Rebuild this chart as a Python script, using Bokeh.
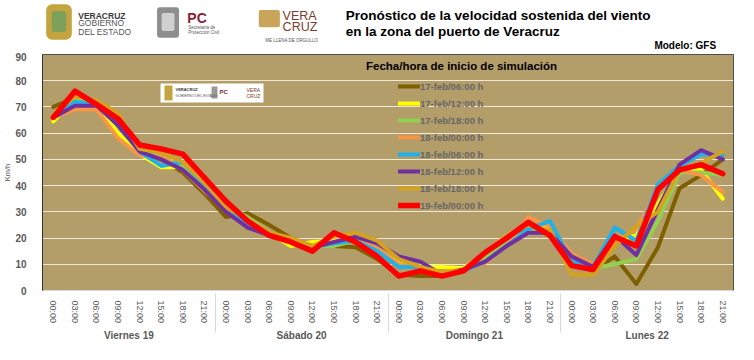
from bokeh.plotting import figure
from bokeh.layouts import column
from bokeh.models import FactorRange, Range1d, Legend, LegendItem, Label, BoxAnnotation, FixedTicker
from bokeh.embed import file_html
from bokeh.resources import INLINE

FONT = "Liberation Sans"

days = ["Viernes 19", "Sábado 20", "Domingo 21", "Lunes 22"]
hours = ["00:00", "03:00", "06:00", "09:00", "12:00", "15:00", "18:00", "21:00"]
y_ticks = [0, 10, 20, 30, 40, 50, 60, 70, 80, 90]

run_labels = ["17-feb/06:00 h", "17-feb/12:00 h", "17-feb/18:00 h", "18-feb/00:00 h",
              "18-feb/06:00 h", "18-feb/12:00 h", "18-feb/18:00 h", "19-feb/00:00 h"]
run_colors = ["#7F6000", "#FFFF00", "#92D050", "#F79646",
              "#1FB1E8", "#7030A0", "#D6A21E", "#FF0000"]

feb17_06 = [70, 73.5, 72, 63, 53, 50, 45, 37, 28, 29.5, 25, 20, 17, 17, 16.5, 12,
            6, 5.5, 5.5, 7.5, 14, 20, 25, 22, 10, 7.5, 13, 2.5, 16.5, 39, 44, 50]
feb17_12 = [64.5, 73, 71, 60, 52, 47, 47, 40, 32, 27, 22, 17, 18.5, 19, 19, 15.5,
            10.5, 9, 9, 8.5, 14, 21, 25, 24, 10, 8, 19, 21, 33, 45.5, 46, 35]
feb17_18 = [67, 73, 72, 64, 53, 51, 47, 39, 32, 28, 22, 19, 17, 17, 19, 16,
            10, 8, 7, 7.5, 13, 18, 23, 23, 10, 8.5, 10, 12, 26.5, 45, 45, 44]
feb18_00 = [66, 69, 69, 58, 51.5, 51, 46, 38, 31, 24, 21.5, 20, 17, 18, 20, 16,
            10, 8, 7, 8, 10.5, 17, 28, 24.5, 14, 10, 19, 23.5, 38.5, 46, 44, 37.5]
feb18_06 = [67, 72, 71, 63, 53, 47.5, 49, 40, 32.5, 25, 21, 19, 16.5, 18, 19, 15,
            9, 9, 6.5, 7.5, 11, 17, 23.5, 26.5, 11, 9, 24, 19, 40.5, 47.5, 52, 51.5]
feb18_12 = [66, 70.5, 70.5, 63, 53, 50, 46, 38.5, 30, 24, 21, 19.5, 16.5, 18.5, 20.5, 18,
            13, 11, 6, 8, 11, 17, 22, 22, 13, 9, 21, 13.5, 31, 48, 53.5, 50]
feb18_18 = [67, 74, 72.5, 67.5, 54, 52.5, 49, 41, 32, 27, 22, 20, 17, 20.5, 22, 19,
            12, 9, 7, 7.5, 14, 21, 25, 23, 6, 6, 17, 24.5, 30, 46, 48.5, 53]
feb19_00 = [66, 76, 71, 65.5, 55.5, 54, 52, 43, 34, 26.5, 21, 18.5, 15, 22, 18.5, 13,
            5.5, 7.5, 5.5, 7.5, 14.5, 20, 26, 21, 9.5, 8, 20.5, 17, 38.5, 46, 48, 44.5]

series = [feb17_06, feb17_12, feb17_18, feb18_00, feb18_06, feb18_12, feb18_18, feb19_00]

factors = [(d, h) for d in days for h in hours]

W = 738
HDR_H = 52
MAIN_H = 344 - HDR_H

# ---------------- header (titles + logos) ----------------
hdr = figure(width=W, height=HDR_H, output_backend="svg", toolbar_location=None, title=None,
             x_range=Range1d(0, 754), y_range=Range1d(54.4, 0),
             x_axis_location=None, y_axis_location=None,
             min_border=0, min_border_left=0, min_border_right=0,
             min_border_top=0, min_border_bottom=0)
hdr.grid.visible = False
hdr.outline_line_color = None
hdr.background_fill_color = "white"
hdr.border_fill_color = "white"


def hlab(text, x, y, size, color="#000000", style="normal", align="left"):
    hdr.add_layout(Label(x=x, y=y, text=text, text_font=FONT, text_font_size=size,
                         text_color=color, text_font_style=style, text_align=align,
                         text_baseline="middle"))


def hbox(l, r, t, b, color, radius=0):
    hdr.add_layout(BoxAnnotation(left=l, right=r, top=t, bottom=b, fill_color=color,
                                 fill_alpha=1, line_color=None, border_radius=radius))


hlab("Pronóstico de la velocidad sostenida del viento", 331, 16.2, "13.5px", style="bold")
hlab("en la zona del puerto de Veracruz", 331, 32.7, "13.5px", style="bold")
hlab("Modelo: GFS", 735, 47, "10px", style="bold", align="right")

# logo approximations
hbox(4, 32, 4, 41, "#C3A43E", 6)
hbox(10, 26, 11, 33, "#7FA05A", 3)
hlab("VERACRUZ", 39, 15.7, "8.5px", color="#3A3A3A", style="bold")
hlab("GOBIERNO", 39, 23.7, "8.5px", color="#555555")
hlab("DEL ESTADO", 39, 33, "8.5px", color="#555555")
hbox(125, 149, 7, 39, "#8E8E8E", 3)
hbox(130, 144, 13, 32, "#D0D0D0", 2)
hlab("PC", 158, 18.7, "14px", color="#8B2232", style="bold")
hlab("Secretaría de", 159, 28.5, "4.5px", color="#555555")
hlab("Protección Civil", 159, 33.5, "4.5px", color="#555555")
hbox(236, 259, 10, 28, "#C8A55A", 2)
hlab("VERA", 262, 16.3, "12.5px", color="#7B3B2B")
hlab("CRUZ", 262, 28, "12.5px", color="#7B3B2B")
hlab("ME LLENA DE ORGULLO", 243, 42.3, "4.5px", color="#555555")

# ---------------- main chart ----------------
p = figure(width=W, height=MAIN_H, output_backend="svg", toolbar_location=None, title=None,
           x_range=FactorRange(*factors, factor_padding=0, group_padding=0, range_padding=0),
           y_range=Range1d(0, 90),
           min_border_left=41, min_border_right=5, min_border_top=2, min_border_bottom=54)

p.background_fill_color = "#B39D69"
p.border_fill_color = "white"
p.outline_line_color = "#4D4D4D"
p.outline_line_width = 1

p.xgrid.visible = False
p.ygrid.grid_line_color = "#EFE8D8"
p.ygrid.grid_line_width = 1.2

p.yaxis.ticker = FixedTicker(ticks=y_ticks)
p.yaxis.axis_line_color = "#333333"
p.yaxis.major_tick_line_color = None
p.yaxis.minor_tick_line_color = None
p.yaxis.major_label_text_font = FONT
p.yaxis.major_label_text_font_size = "10px"
p.yaxis.major_label_text_font_style = "bold"
p.yaxis.major_label_text_color = "#595959"
p.yaxis.major_label_standoff = 10
p.yaxis.axis_label = "Km/h"
p.yaxis.axis_label_text_font = FONT
p.yaxis.axis_label_text_font_size = "7.5px"
p.yaxis.axis_label_text_font_style = "normal"
p.yaxis.axis_label_text_color = "#595959"
p.yaxis.axis_label_standoff = 0

p.xaxis.axis_line_color = "#D9D9D9"
p.xaxis.major_tick_line_color = None
p.xaxis.minor_tick_line_color = None
p.xaxis.major_label_orientation = "vertical"
p.xaxis.major_label_text_font = FONT
p.xaxis.major_label_text_font_size = "9px"
p.xaxis.major_label_text_color = "#595959"
p.xaxis.major_label_standoff = 4
p.xaxis.group_text_font = FONT
p.xaxis.group_text_font_size = "10px"
p.xaxis.group_text_font_style = "bold"
p.xaxis.group_text_color = "#595959"
p.xaxis.separator_line_color = "#D9D9D9"
p.xaxis.separator_line_width = 1

renderers = []
for i, (vals, col) in enumerate(zip(series, run_colors)):
    lw = 5.5 if i == len(series) - 1 else 4
    r = p.line(factors, vals, line_color=col, line_width=lw, line_join="round", line_cap="round")
    renderers.append(r)

legend = Legend(items=[LegendItem(label=lab, renderers=[r]) for lab, r in zip(run_labels, renderers)],
                location=(356, 78), orientation="vertical")
legend.background_fill_alpha = 0
legend.border_line_alpha = 0
legend.padding = 0
legend.margin = 0
legend.spacing = 3
legend.glyph_height = 14
legend.label_height = 14
legend.glyph_width = 22
legend.label_standoff = 0
legend.label_text_font = FONT
legend.label_text_font_size = "9.5px"
legend.label_text_font_style = "bold"
legend.label_text_color = "#666666"
p.add_layout(legend)


# frame-relative screen positions
def lab(text, sx, sy, size, color="#000000", style="normal", align="left"):
    p.add_layout(Label(x=sx, y=sy, x_units="screen", y_units="screen", text=text,
                       text_font=FONT, text_font_size=size, text_color=color,
                       text_font_style=style, text_align=align, text_baseline="middle"))


lab("Fecha/hora de inicio de simulación", 419, 225, "11.5px", style="bold", align="center")


def sbox(l, r, t, b, color):
    p.add_layout(BoxAnnotation(left=l, right=r, top=t, bottom=b,
                               left_units="screen", right_units="screen", top_units="screen",
                               bottom_units="screen", fill_color=color, fill_alpha=1,
                               line_color=None))


# in-plot logo box
sbox(118, 221, 207, 188, "white")
sbox(122, 130, 205, 190, "#C3A43E")
sbox(169, 175, 204, 192, "#9A9A9A")
lab("VERACRUZ", 133, 201, "4px", color="#333333", style="bold")
lab("GOBIERNO DEL ESTADO", 133, 195, "3.5px", color="#555555")
lab("PC", 177, 199, "6px", color="#8B2232", style="bold")
lab("VERA", 204, 201, "5px", color="#7B3B2B")
lab("CRUZ", 204, 195, "5px", color="#7B3B2B")

layout = column(hdr, p, spacing=0)
open("out.html", "w").write(file_html(layout, INLINE))
